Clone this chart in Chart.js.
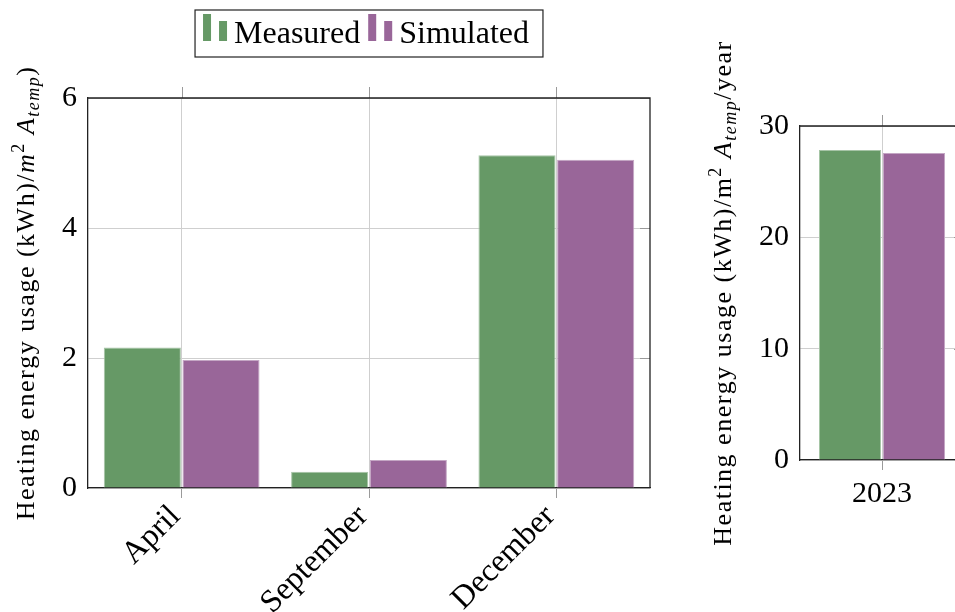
<!DOCTYPE html>
<html lang="en">
<head>
<meta charset="UTF-8">
<title>Heating energy usage - measured vs simulated</title>
<script src="https://cdn.jsdelivr.net/npm/chart.js"></script>
<style>
    body { margin: 0; background: #fff; width: 955px; height: 612px; overflow: hidden; position: relative; }
    #monthly { position: absolute; left: 0; top: 0; }
    .yearly-wrap { position: absolute; left: 680px; top: 0; width: 275px; height: 612px; overflow: hidden; }
</style>
</head>
<body>
<canvas id="monthly" width="670" height="612"></canvas>
<div class="yearly-wrap"><canvas id="yearly" width="300" height="612"></canvas></div>

<script>
// chart values
const months = ['April', 'September', 'December'];
const measuredMonthly = [2.16, 0.25, 5.12];
const simulatedMonthly = [1.97, 0.43, 5.05];
const monthlyTicks = [0, 2, 4, 6];

const years = ['2023'];
const measuredYearly = [27.85];
const simulatedYearly = [27.58];
const yearlyTicks = [0, 10, 20, 30];

const seriesNames = ['Measured', 'Simulated'];
const GREEN = '#669966';
const PURPLE = '#996699';
const SERIF = "'Liberation Serif', serif";

Chart.defaults.font.family = SERIF;
Chart.defaults.color = '#000';

// draws the y axis label rotated, with italic / sub / superscript pieces
// (char by char, so a little tracking can be added to get closer to the TeX width)
function drawRichVertical(ctx, parts, cx, cy, size, track) {
    ctx.save();
    ctx.translate(cx, cy);
    ctx.rotate(-Math.PI / 2);
    ctx.textBaseline = 'alphabetic';
    ctx.fillStyle = '#000';
    const fontFor = p => (p.italic ? 'italic ' : '') + (p.pos ? Math.round(size * 0.7) : size) + 'px ' + SERIF;
    const glyphs = [];
    let total = 0;
    parts.forEach(p => {
        ctx.font = fontFor(p);
        const dy = p.pos === 'sup' ? -size * 0.38 : p.pos === 'sub' ? size * 0.2 : 0;
        for (const ch of p.t) {
            const w = ctx.measureText(ch).width + track;
            glyphs.push({ ch, font: ctx.font, dy, w });
            total += w;
        }
    });
    let x = -total / 2;
    glyphs.forEach(g => {
        ctx.font = g.font;
        ctx.fillText(g.ch, x, size * 0.33 + g.dy);
        x += g.w;
    });
    ctx.restore();
}

const axisTitle = {
    id: 'axisTitle',
    afterDraw(chart, args, opts) {
        const a = chart.chartArea;
        drawRichVertical(chart.ctx, opts.parts, opts.x, (a.top + a.bottom) / 2, opts.size, opts.track);
    }
};

// pgfplots-like frame: top/right border, ticks on top and right side
const frame = {
    id: 'frame',
    afterDatasetsDraw(chart) {
        const {ctx, chartArea: a, scales} = chart;
        ctx.save();
        ctx.lineWidth = 1;
        ctx.strokeStyle = '#9a9a9a';
        scales.x.ticks.forEach((t, i) => {
            const x = Math.round(scales.x.getPixelForTick(i)) + 0.5;
            ctx.beginPath(); ctx.moveTo(x, a.top - 11); ctx.lineTo(x, a.top); ctx.stroke();
        });
        scales.y.ticks.forEach(t => {
            const y = Math.round(scales.y.getPixelForValue(t.value)) + 0.5;
            ctx.beginPath(); ctx.moveTo(a.right - 10, y); ctx.lineTo(a.right, y); ctx.stroke();
        });
        ctx.strokeStyle = '#222';
        ctx.lineWidth = 1.3;
        ctx.beginPath();
        ctx.moveTo(a.left, a.top); ctx.lineTo(a.right, a.top); ctx.lineTo(a.right, a.bottom);
        ctx.stroke();
        ctx.restore();
    }
};

// boxed legend with the two-bar ybar icon
const boxLegend = {
    id: 'boxLegend',
    afterDraw(chart, args, opts) {
        if (!opts.show) return;
        const {ctx, chartArea: a} = chart;
        ctx.save();
        ctx.font = opts.size + 'px ' + SERIF;
        const items = chart.data.datasets.map(ds => ({
            label: ds.label, color: ds.backgroundColor, w: ctx.measureText(ds.label).width
        }));
        const iconW = 25, gapIcon = 6, gapItem = 8, padL = 8, padR = 14;
        const total = padL + padR + gapItem * (items.length - 1) +
            items.reduce((s, it) => s + iconW + gapIcon + it.w, 0);
        let x = (a.left + a.right) / 2 - total / 2;
        ctx.strokeStyle = '#222';
        ctx.lineWidth = 1.2;
        ctx.strokeRect(x, 10, total, 47);
        x += padL;
        items.forEach(it => {
            ctx.fillStyle = it.color;
            ctx.fillRect(x, 14, 8, 27);
            ctx.fillRect(x + 16, 21, 8, 20);
            x += iconW + gapIcon;
            ctx.fillStyle = '#000';
            ctx.textBaseline = 'alphabetic';
            ctx.fillText(it.label, x, 43);
            x += it.w + gapItem;
        });
        ctx.restore();
    }
};

function makeDatasets(measured, simulated, catPct, barPct) {
    return [
        { label: seriesNames[0], data: measured, backgroundColor: GREEN, borderColor: '#a6c4a6',
          borderWidth: 1, categoryPercentage: catPct, barPercentage: barPct },
        { label: seriesNames[1], data: simulated, backgroundColor: PURPLE, borderColor: '#c4a6c4',
          borderWidth: 1, categoryPercentage: catPct, barPercentage: barPct }
    ];
}

function makeScales(ticks, yWidth, xHeight, rotate) {
    return {
        x: {
            offset: true,
            grid: { offset: false, color: '#cfcfcf', tickColor: '#9a9a9a', tickLength: 10 },
            border: { color: '#222', width: 1.3 },
            ticks: { font: { size: rotate ? 32 : 30 }, padding: rotate ? 0 : 6, autoSkip: false,
                     labelOffset: rotate ? -6 : 0,
                     maxRotation: rotate ? 45 : 0, minRotation: rotate ? 45 : 0 },
            afterFit(scale) { scale.height = xHeight; }
        },
        y: {
            min: ticks[0],
            max: ticks[ticks.length - 1],
            grid: { color: '#cfcfcf', drawTicks: false },
            border: { color: '#222', width: 1.3 },
            ticks: { stepSize: ticks[1] - ticks[0], font: { size: 30 }, padding: 11 },
            afterFit(scale) { scale.width = yWidth; }
        }
    };
}

new Chart(document.getElementById('monthly'), {
    type: 'bar',
    data: { labels: months, datasets: makeDatasets(measuredMonthly, simulatedMonthly, 0.84, 0.98) },
    options: {
        responsive: false,
        animation: false,
        layout: { padding: { top: 98, right: 20, left: 0, bottom: 0 } },
        scales: makeScales(monthlyTicks, 88, 124, true),
        plugins: {
            legend: { display: false },
            tooltip: { enabled: false },
            boxLegend: { show: true, size: 32 },
            axisTitle: {
                x: 25, size: 26, track: 1.5,
                parts: [
                    { t: 'Heating energy usage (kWh)/' },
                    { t: 'm', italic: true },
                    { t: '2', pos: 'sup' },
                    { t: ' ' },
                    { t: 'A', italic: true },
                    { t: 'temp', italic: true, pos: 'sub' },
                    { t: ')' }
                ]
            }
        }
    },
    plugins: [frame, axisTitle, boxLegend]
});

new Chart(document.getElementById('yearly'), {
    type: 'bar',
    data: { labels: years, datasets: makeDatasets(measuredYearly, simulatedYearly, 0.78, 0.97) },
    options: {
        responsive: false,
        animation: false,
        layout: { padding: { top: 126, right: 16, left: 0, bottom: 0 } },
        scales: makeScales(yearlyTicks, 120, 152, false),
        plugins: {
            legend: { display: false },
            tooltip: { enabled: false },
            boxLegend: { show: false },
            axisTitle: {
                x: 42, size: 26, track: 1.5,
                parts: [
                    { t: 'Heating energy usage (kWh)/m' },
                    { t: '2', pos: 'sup' },
                    { t: ' ' },
                    { t: 'A', italic: true },
                    { t: 'temp', italic: true, pos: 'sub' },
                    { t: '/year' }
                ]
            }
        }
    },
    plugins: [frame, axisTitle, boxLegend]
});
</script>
</body>
</html>
